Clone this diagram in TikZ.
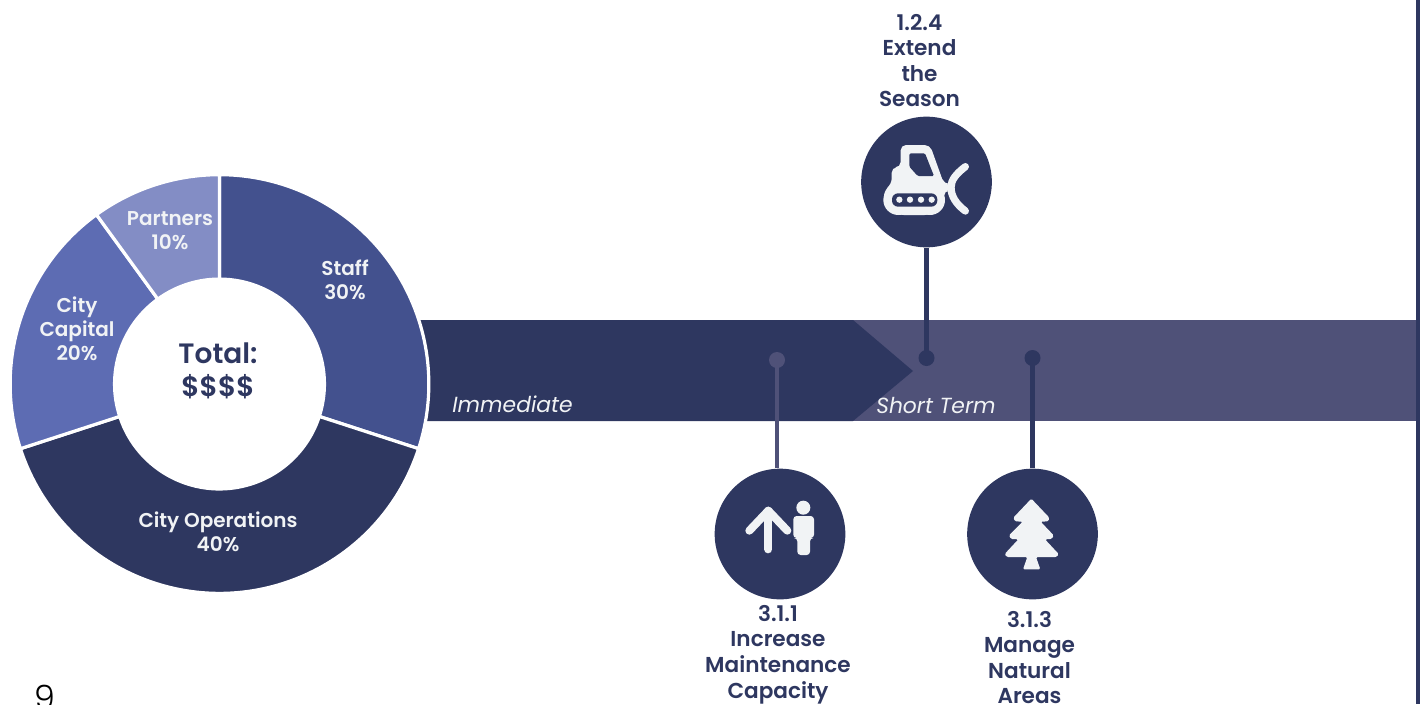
\documentclass[tikz,border=0pt]{standalone}
\usepackage{fontspec}
\setmainfont{Poppins}[BoldFont={Poppins SemiBold},ItalicFont={Poppins Italic}]
\newfontfamily\lightfont{Poppins Light}
\usetikzlibrary{calc}
\definecolor{navy}{HTML}{2E3760}
\definecolor{slate}{HTML}{4F5178}
\definecolor{staffc}{HTML}{43518E}
\definecolor{capc}{HTML}{5D6CB3}
\definecolor{partc}{HTML}{838DC5}
\definecolor{iconc}{HTML}{F1F3F5}
\tikzset{
  x=0.75pt,y=-0.75pt,
  iconcircle/.style={circle,fill=navy,draw=none,minimum size=98pt,inner sep=0pt},
  enddot/.style={circle,draw=none,minimum size=12pt,inner sep=0pt},
  stem/.style={line width=3.2pt},
  goal/.style={align=center,text=navy,font=\fontsize{16.2}{19.2}\selectfont\bfseries,inner sep=0pt},
  donutlabel/.style={align=center,text=iconc,font=\fontsize{15}{18}\selectfont\bfseries,inner sep=0pt},
  phase/.style={text=iconc,anchor=base west,inner sep=0pt,font=\fontsize{16.4}{19}\selectfont\itshape},
  seg/.style={draw=white,line width=2.4pt,line join=miter},
}
\newcommand{\wedgeseg}[3]{\fill[#3,seg] ($(219.5,384)+(#1:157pt)$) arc[start angle=#1,end angle=#2,radius=157pt] -- ($(219.5,384)+(#2:78.7pt)$) arc[start angle=#2,end angle=#1,radius=78.7pt] -- cycle;}
\begin{document}
\begin{tikzpicture}
\useasboundingbox (0,0) rectangle (1420,704);
% bands
\fill[slate] (853,320) rectangle (1416,421);
\fill[navy] (415,320) -- (853,320) -- (913,371) -- (853,421) -- (415,421) -- cycle;
\fill[navy] (1416,0) rectangle (1420,704);
% donut
\wedgeseg{90}{-18}{staffc}
\wedgeseg{-18}{-162}{navy}
\wedgeseg{-162}{-234}{capc}
\wedgeseg{-234}{-270}{partc}
\node[align=center,text=navy,inner sep=0pt,font=\fontsize{21}{24.5}\selectfont\bfseries] (total) at (218,371) {Total:\\\$\$\$\$};
\node[donutlabel] (staff) at (345,280) {Staff\\30\%};
\node[donutlabel] (ops) at (218,532) {City Operations\\40\%};
\node[donutlabel] (cap) at (77,329) {City\\Capital\\20\%};
\node[donutlabel] (part) at (170,231) {Partners\\10\%};
\node[phase] (imm) at (452,412) {Immediate};
\node[phase] (st) at (876,413) {Short Term};
% connectors
\node[iconcircle] (c1) at (926.5,182) {};
\node[iconcircle] (c2) at (780,534) {};
\node[iconcircle] (c3) at (1032.5,534) {};
\node[enddot,fill=navy] (d1) at (926.5,358) {};
\node[enddot,fill=slate] (d2) at (777,360) {};
\node[enddot,fill=navy] (d3) at (1032.5,358) {};
\draw[stem,navy] (d1.center) -- (d1.center |- c1.south);
\draw[stem,slate] (d2.center) -- (d2.center |- c2.north);
\draw[stem,navy] (d3.center) -- (d3.center |- c3.north);
% bulldozer
\begin{scope}[shift={(840,110)},x=0.25pt,y=-0.25pt]
\fill[iconc,rounded corners=4pt] (182,105) -- (270,105) -- (312,222) -- (335,222) -- (335,242) -- (312,242) -- (312,270) -- (270,315) -- (175,315) -- (130,270) -- (135,238) -- (155,222) -- (155,172) -- (182,172) -- cycle;
\fill[iconc] (175,270) circle[radius=45];
\fill[iconc] (270,270) circle[radius=45];
\draw[iconc,line width=5.5pt,line cap=round] (376,170) .. controls (348,192) and (333,210) .. (333,232) .. controls (333,258) and (348,282) .. (376,303);
\fill[navy,rounded corners=1pt] (208,130) -- (255,130) -- (282,198) -- (233,198) -- (208,170) -- cycle;
\fill[navy,rounded corners=4.5pt] (156,250) rectangle (292,290);
\foreach \wx in {178,210,243,275}{\fill[iconc] (\wx,269) circle[radius=9.5];}
\end{scope}
% arrow and person
\begin{scope}[shift={(700,460)},x=0.25pt,y=-0.25pt]
\draw[iconc,line width=6pt,line cap=round,line join=round] (148,212) -- (205,152) -- (262,212);
\draw[iconc,line width=6pt,line cap=round] (205,152) -- (205,268);
\fill[iconc] (310,143) circle[radius=21];
\fill[iconc,rounded corners=2.5pt] (280,168) -- (342,168) -- (342,234) -- (330,234) -- (330,285) -- (292,285) -- (292,234) -- (280,234) -- cycle;
\end{scope}
% tree
\begin{scope}[shift={(950,460)},x=0.25pt,y=-0.25pt]
\fill[iconc,rounded corners=1pt] (244,116) -- (298,173) -- (295,184) -- (272,185) -- (311,226) -- (305,237) -- (285,238) -- (326,282) -- (320,291) -- (258,291) -- (271,328) -- (219,328) -- (232,291) -- (170,291) -- (164,282) -- (205,238) -- (183,237) -- (177,226) -- (218,185) -- (195,184) -- (190,173) -- cycle;
\end{scope}
% goal labels
\node[goal] (g1) at (919.5,60.5) {1.2.4\\Extend\\the\\Season};
\node[goal] (g2) at (778,654.5) {3.1.1\\Increase\\Maintenance\\Capacity};
\node[goal] (g3) at (1029.5,657.5) {3.1.3\\Manage\\Natural\\Areas};
\node[text=black,inner sep=0pt,anchor=base,font=\fontsize{25}{26}\lightfont] (pg) at (45,709) {9};
\end{tikzpicture}
\end{document}
